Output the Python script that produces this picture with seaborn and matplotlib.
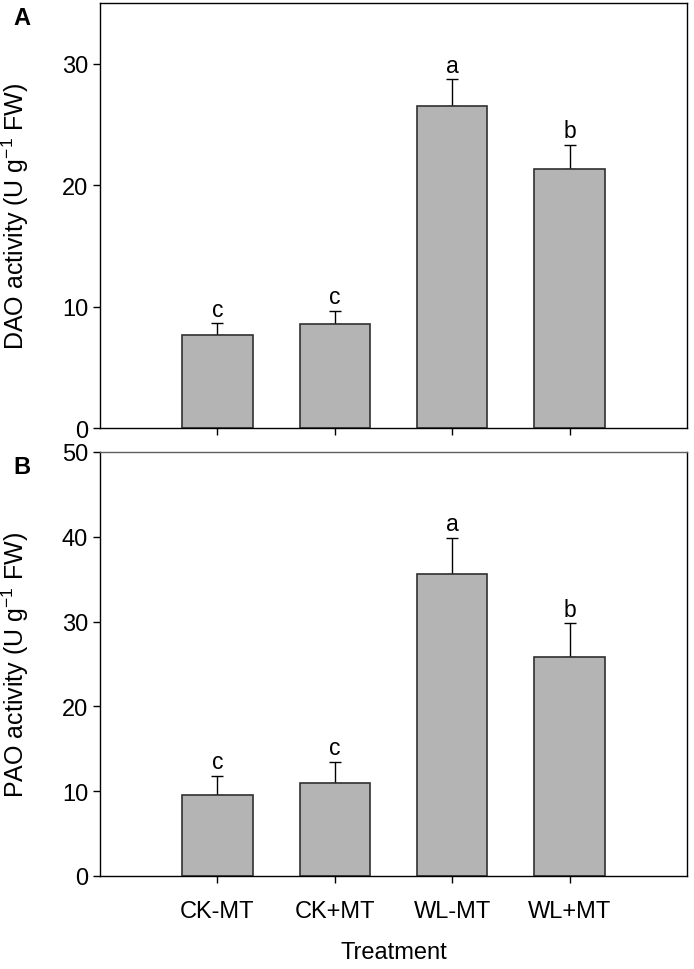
import numpy as np
import pandas as pd
import matplotlib
matplotlib.use('Agg')
import matplotlib.pyplot as plt
import seaborn as sns

treatments = ['CK-MT', 'CK+MT', 'WL-MT', 'WL+MT']

dao_mean = [7.7, 8.55, 26.5, 21.3]
dao_err = [0.92, 1.07, 2.2, 2.0]
dao_letters = ['c', 'c', 'a', 'b']

pao_mean = [9.6, 11.0, 35.6, 25.8]
pao_err = [2.2, 2.5, 4.3, 4.0]
pao_letters = ['c', 'c', 'a', 'b']

sns.set_style('ticks')
plt.rcParams['font.family'] = ['Liberation Sans', 'DejaVu Sans']
plt.rcParams['mathtext.fontset'] = 'custom'
plt.rcParams['mathtext.rm'] = 'Liberation Sans'
for k in ['text.color', 'axes.labelcolor', 'xtick.color', 'ytick.color']:
    plt.rcParams[k] = 'black'

fig = plt.figure(figsize=(6.94, 9.70), dpi=100)
ax1 = fig.add_axes([0.1441, 0.5577, 0.8459, 0.4382])
ax2 = fig.add_axes([0.1441, 0.0959, 0.8459, 0.4371])


def draw_panel(ax, mean, err, letters, ylim, yticks, ylabel, tag):
    df = pd.DataFrame({'Treatment': treatments, 'value': mean})
    sns.barplot(data=df, x='Treatment', y='value', ax=ax, color='#b4b4b4',
                saturation=1, width=0.6, edgecolor='#303030', linewidth=1.2,
                errorbar=None, zorder=2)
    pos = np.arange(len(treatments))
    # one-sided (upper) error bars, lower cap hidden behind the bar
    ax.errorbar(pos, mean, yerr=[np.zeros(len(err)), err], fmt='none',
                ecolor='black', elinewidth=1, capsize=4.3, capthick=1,
                zorder=1)
    for x, m, e, lab in zip(pos, mean, err, letters):
        ax.annotate(lab, (x, m + e), xytext=(0, 2), textcoords='offset points',
                    ha='center', va='bottom', fontsize=16.5)
    ax.set_xlim(-1, 4)
    ax.set_ylim(*ylim)
    ax.set_yticks(yticks)
    ax.set_ylabel(ylabel, fontsize=18)
    ax.yaxis.set_label_coords(-0.117, 0.5)
    ax.tick_params(axis='both', direction='out', length=5, width=1,
                   labelsize=17)
    for s in ax.spines.values():
        s.set_visible(True)
        s.set_linewidth(1)
        s.set_color('black')
    ax.text(-0.133, 0.993, tag, transform=ax.transAxes, fontsize=17,
            fontweight='bold', ha='center', va='top')


draw_panel(ax1, dao_mean, dao_err, dao_letters, (0, 35), [0, 10, 20, 30],
           'DAO activity (U g$^{-1}$ FW)', 'A')
draw_panel(ax2, pao_mean, pao_err, pao_letters, (0, 50), [0, 10, 20, 30, 40, 50],
           'PAO activity (U g$^{-1}$ FW)', 'B')

ax1.set_xlabel('')
ax1.set_xticklabels([])
ax2.set_xlabel('Treatment', fontsize=17, labelpad=14)
ax2.tick_params(axis='x', pad=12)
ax2.spines['top'].set_color('#606060')

fig.savefig('out.png', dpi=100)
